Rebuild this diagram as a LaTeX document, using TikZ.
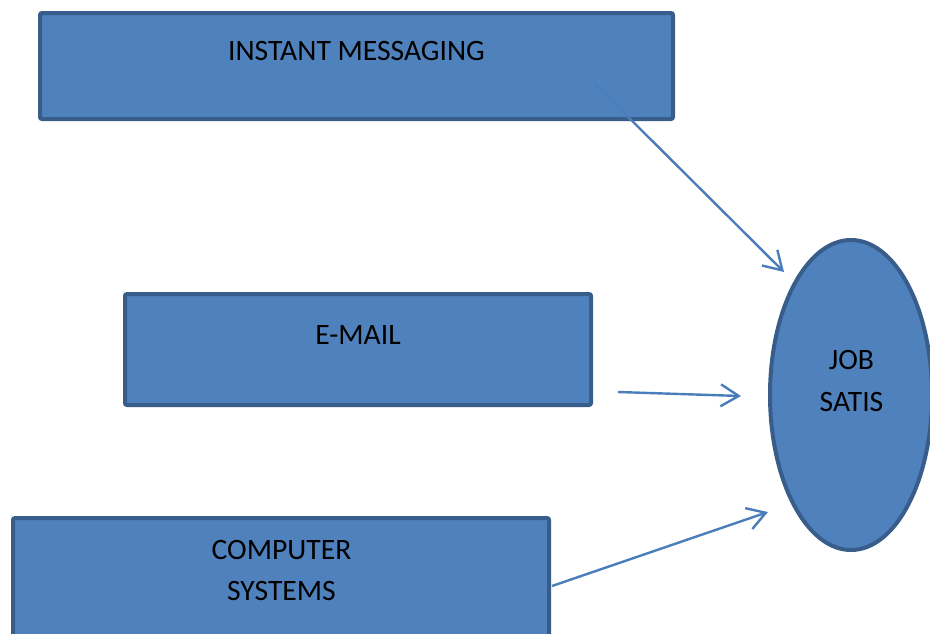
\documentclass[tikz,border=0pt]{standalone}
\usepackage{fontspec}
\setmainfont{Carlito}
\usetikzlibrary{arrows.meta,shapes.geometric}
\definecolor{boxfill}{HTML}{4F81BD}
\definecolor{boxline}{HTML}{385D8A}
\definecolor{arrowcol}{HTML}{4A7EBB}
\tikzset{
  box/.style={draw=boxline, fill=boxfill, line width=4pt, rounded corners=2pt, inner sep=0pt},
  oval/.style={ellipse, draw=boxline, fill=boxfill, line width=4pt, inner sep=0pt},
  lbl/.style={font=\fontsize{29.6}{42}\selectfont, text=black, align=center, inner sep=0pt},
  conn/.style={draw=arrowcol, line width=2.4pt, -{Straight Barb[length=18pt,width=22pt,line width=2.4pt]}}
}
\begin{document}
\begin{tikzpicture}[x=1pt,y=-1pt]
\useasboundingbox (0,0) rectangle (930,633);
\clip (0,0) rectangle (930,633);
\node[box, minimum width=633pt, minimum height=106pt] (b1) at (356.5,66) {};
\node[box, minimum width=466pt, minimum height=111pt] (b2) at (358,349.5) {};
\node[box, minimum width=536pt, minimum height=150pt] (b3) at (281,593) {};
\node[oval, minimum width=162pt, minimum height=310pt] (js) at (851,395) {};
\node[lbl] (t1) at (356.5,51) {INSTANT MESSAGING};
\node[lbl] (t2) at (358,335) {E-MAIL};
\node[lbl, anchor=base] (t3a) at (281.5,559) {COMPUTER};
\node[lbl, anchor=base] (t3b) at (281.5,600) {SYSTEMS};
\node[lbl, anchor=base] (t4a) at (851.5,369) {JOB};
\node[lbl, anchor=base] (t4b) at (851.5,411) {SATIS};
\coordinate (s1) at (594,83);
\coordinate (e1) at (784,272);
\coordinate (s2) at (618,392);
\coordinate (e2) at (741,396);
\coordinate (s3) at (552,586);
\coordinate (e3) at (768,512);
\draw[conn] (s1) -- (e1);
\draw[conn] (s2) -- (e2);
\draw[conn] (s3) -- (e3);
\end{tikzpicture}
\end{document}
